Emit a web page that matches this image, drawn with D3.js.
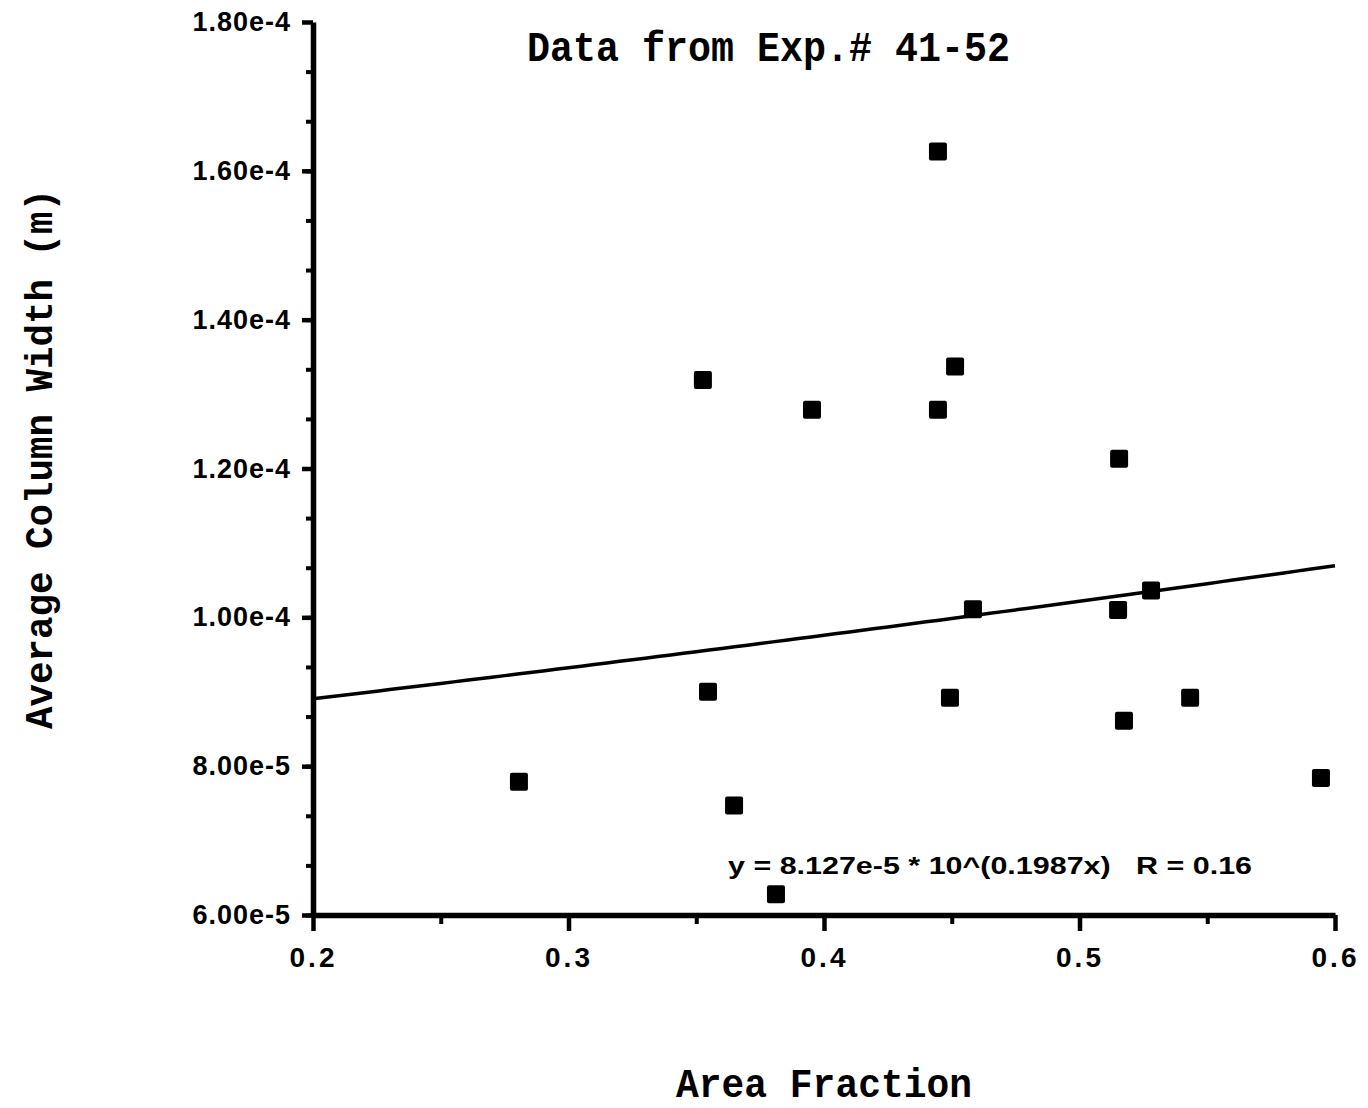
<!doctype html>
<html lang="en">
<head>
  <meta charset="UTF-8">
  <title>Column width vs area fraction</title>
  <script src="https://cdn.jsdelivr.net/npm/d3@7"></script>
  <style>
    body { margin: 0; background: white; }
    .tick text { font-family: "Liberation Sans", Arial, sans-serif; font-weight: bold; fill: black; }
    .lbl { font-family: "Liberation Mono", "Courier New", monospace; font-weight: bold; fill: black; }
  </style>
</head>
<body>
<div id="container"></div>
<script type="text/javascript">
// area fraction vs average column width (m)
var areaFraction = [0.2806, 0.3526, 0.3546, 0.3648, 0.3812, 0.3953, 0.4446, 0.4446, 0.4513,
                    0.4493, 0.4583, 0.5155, 0.5151, 0.5174, 0.5280, 0.5433, 0.5945];
var columnWidth  = [7.79e-5, 1.319e-4, 9.00e-5, 7.47e-5, 6.28e-5, 1.279e-4, 1.626e-4, 1.279e-4, 1.337e-4,
                    8.92e-5, 1.011e-4, 1.213e-4, 1.010e-4, 8.61e-5, 1.036e-4, 8.92e-5, 7.84e-5];

var xTicks = [0.2, 0.3, 0.4, 0.5, 0.6];
var yTicks = [6e-5, 8e-5, 1e-4, 1.2e-4, 1.4e-4, 1.6e-4, 1.8e-4];

// fit printed on the chart: y = 8.127e-5 * 10^(0.1987x)
var fitA = 8.127e-5, fitB = 0.1987;
var fitLabel = 'y = 8.127e-5 * 10^(0.1987x)   R = 0.16';

var title = 'Data from Exp.# 41-52';
var xTitle = 'Area Fraction';
var yTitle = 'Average Column Width (m)';

var W = 1368, H = 1108;
// note: "top" is taken by window.top, so plot edges get their own names
var plotLeft = 313, plotTop = 22, plotRight = 1335, plotBottom = 915;

var svg = d3.select('#container').append('svg')
  .attr('width', W)
  .attr('height', H);

var x = d3.scaleLinear().domain([0.2, 0.6]).range([plotLeft, plotRight]);
var y = d3.scaleLinear().domain([6e-5, 1.8e-4]).range([plotBottom, plotTop]);

// minor ticks first so majors sit on top
var yMinor = d3.range(6e-5, 1.8e-4, 2e-5 / 3);
svg.append('g')
  .attr('transform', 'translate(' + plotLeft + ',0)')
  .call(d3.axisLeft(y).tickValues(yMinor).tickSize(7).tickSizeOuter(0).tickFormat(''))
  .call(function(g) { g.select('.domain').remove(); g.selectAll('line').attr('stroke-width', 4); });

var xMinor = d3.range(0.25, 0.6, 0.1);
svg.append('g')
  .attr('transform', 'translate(0,' + plotBottom + ')')
  .call(d3.axisBottom(x).tickValues(xMinor).tickSize(9).tickSizeOuter(0).tickFormat(''))
  .call(function(g) { g.select('.domain').remove(); g.selectAll('line').attr('stroke-width', 4); });

var yAxis = svg.append('g')
  .attr('transform', 'translate(' + plotLeft + ',0)')
  .call(d3.axisLeft(y).tickValues(yTicks).tickSize(11).tickSizeOuter(0).tickPadding(11).tickFormat(d3.format('.2e')));
yAxis.selectAll('text').style('font-size', '27px').style('letter-spacing', '1px');

var xAxis = svg.append('g')
  .attr('transform', 'translate(0,' + plotBottom + ')')
  .call(d3.axisBottom(x).tickValues(xTicks).tickSize(16).tickSizeOuter(0).tickPadding(16).tickFormat(d3.format('.1f')));
xAxis.selectAll('text').style('font-size', '28px').style('letter-spacing', '3px');

[xAxis, yAxis].forEach(function(g) {
  g.select('.domain').attr('stroke-width', 5.5).attr('stroke', 'black');
  g.selectAll('line').attr('stroke-width', 4.5).attr('stroke', 'black');
});

// fit curve
var fitXs = d3.range(0.2, 0.6001, 0.005);
var line = d3.line()
  .x(function(d) { return x(d); })
  .y(function(d) { return y(fitA * Math.pow(10, fitB * d)); });
svg.append('path')
  .datum(fitXs)
  .attr('d', line)
  .attr('fill', 'none')
  .attr('stroke', 'black')
  .attr('stroke-width', 3.5);

// points
svg.selectAll('.pt').data(areaFraction)
  .enter().append('rect')
  .attr('class', 'pt')
  .attr('x', function(d) { return x(d) - 9; })
  .attr('y', function(d, i) { return y(columnWidth[i]) - 9; })
  .attr('width', 18)
  .attr('height', 18)
  .attr('rx', 2)
  .attr('fill', 'black');

// texts
svg.append('text')
  .attr('class', 'lbl')
  .attr('x', 527).attr('y', 61)
  .attr('textLength', 483).attr('lengthAdjust', 'spacingAndGlyphs')
  .style('font-size', '42px')
  .text(title);

svg.append('text')
  .attr('class', 'lbl')
  .attr('x', 676).attr('y', 1097)
  .attr('textLength', 296).attr('lengthAdjust', 'spacingAndGlyphs')
  .style('font-size', '40px')
  .text(xTitle);

svg.append('text')
  .attr('class', 'lbl')
  .attr('transform', 'translate(52,729) rotate(-90)')
  .attr('textLength', 540).attr('lengthAdjust', 'spacingAndGlyphs')
  .style('font-size', '38px')
  .text(yTitle);

svg.append('text')
  .attr('x', 728).attr('y', 874)
  .attr('textLength', 524).attr('lengthAdjust', 'spacingAndGlyphs')
  .style('white-space', 'pre')
  .style('font-family', '"Liberation Sans", Arial, sans-serif')
  .style('font-weight', 'bold')
  .style('font-size', '24px')
  .text(fitLabel);
</script>
</body>
</html>
